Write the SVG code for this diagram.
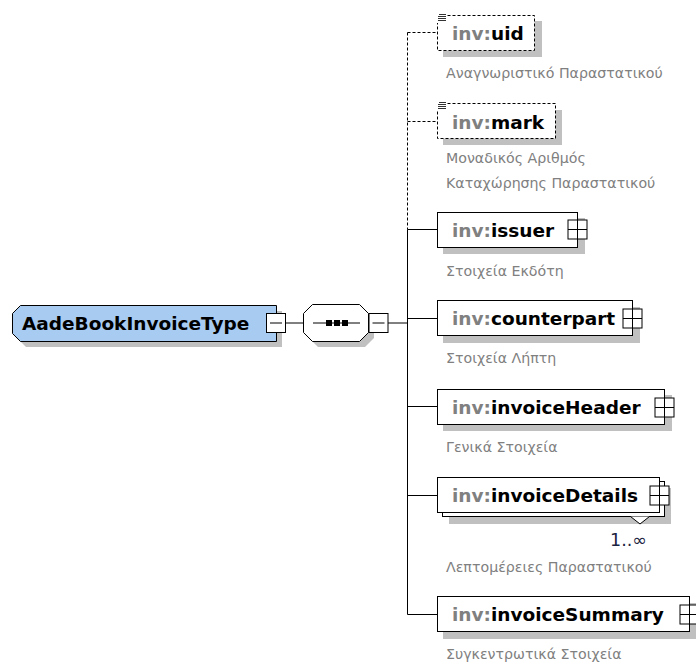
<svg xmlns="http://www.w3.org/2000/svg" width="696" height="664" viewBox="0 0 696 664">
<defs>
<style>
.box{fill:#fff;stroke:#000;stroke-width:1}
.dbox{fill:#fff;stroke:#000;stroke-width:1;stroke-dasharray:3,2}
.sh{fill:#c0c0c0;stroke:none}
.ln{stroke:#000;stroke-width:1;fill:none}
.dl{stroke:#000;stroke-width:1;fill:none;stroke-dasharray:3,2}
.nm{font-family:"DejaVu Sans",sans-serif;font-weight:bold;font-size:18.5px;fill:#000}
.ns{fill:#808080}
.lb{font-family:"DejaVu Sans",sans-serif;font-size:14.2px;fill:#808080}
</style>
<g id="plus">
<rect x="-9.5" y="-9.5" width="19" height="19" fill="#fff" stroke="#000"/>
<path d="M-9.5 0H9.5M0 -9.5V9.5" stroke="#000"/>
</g>
<g id="minus">
<rect x="-9.5" y="-9.5" width="19" height="19" fill="#fff" stroke="#000"/>
<path d="M-6 0H6" stroke="#000"/>
</g>
<g id="doc">
<rect x="0" y="0" width="10" height="10" fill="#fff"/>
<path d="M2 1.5H9M1 3.5H9M1 5.5H9M1 7.5H9" stroke="#333" stroke-width="1"/>
</g>
</defs>
<rect width="696" height="664" fill="#fff"/>

<g id="connectors">
<line class="ln" x1="285" y1="323" x2="303" y2="323"/>
<line class="ln" x1="388" y1="323" x2="407.5" y2="323"/>
<line class="dl" x1="407.5" y1="32.5" x2="407.5" y2="229.5"/>
<line class="ln" x1="407.5" y1="229.5" x2="407.5" y2="614.5"/>
<line class="dl" x1="407.5" y1="32.5" x2="437" y2="32.5"/>
<line class="dl" x1="407.5" y1="121.5" x2="437" y2="121.5"/>
<line class="ln" x1="407.5" y1="229.5" x2="437" y2="229.5"/>
<line class="ln" x1="407.5" y1="318.5" x2="437" y2="318.5"/>
<line class="ln" x1="407.5" y1="406.5" x2="437" y2="406.5"/>
<line class="ln" x1="407.5" y1="495.5" x2="437" y2="495.5"/>
<line class="ln" x1="407.5" y1="614.5" x2="437" y2="614.5"/>
</g>

<g id="AadeBookInvoiceType">
<polygon class="sh" points="26,311 282,311 282,347 26,347 18,339 18,319"/>
<polygon points="20.5,305.5 276.5,305.5 276.5,341.5 20.5,341.5 12.5,333.5 12.5,313.5" fill="#a8cbf2" stroke="#000"/>
<text class="nm" x="22" y="329.5">AadeBookInvoiceType</text>
<use href="#minus" x="276" y="323"/>
</g>

<g id="sequence">
<polygon class="sh" points="318,310 365,310 374,319 374,338 365,347 318,347 309,338 309,319"/>
<polygon points="312.5,304.5 359.5,304.5 368.5,313.5 368.5,332.5 359.5,341.5 312.5,341.5 303.5,332.5 303.5,313.5" fill="#fff" stroke="#000"/>
<line class="ln" x1="313" y1="323" x2="360" y2="323"/>
<rect x="326" y="320" width="6" height="6" fill="#000"/>
<rect x="334" y="320" width="6" height="6" fill="#000"/>
<rect x="342" y="320" width="6" height="6" fill="#000"/>
<use href="#minus" x="378.5" y="323"/>
</g>

<g id="uid">
<rect class="sh" x="443" y="21" width="99" height="36"/>
<rect class="dbox" x="437.5" y="15.5" width="97" height="35"/>
<use href="#doc" x="437" y="13"/>
<text class="nm" x="452" y="40"><tspan class="ns">inv:</tspan>uid</text>
<text class="lb" x="446" y="78">Αναγνωριστικό Παραστατικού</text>
</g>

<g id="mark">
<rect class="sh" x="443" y="110" width="119" height="35"/>
<rect class="dbox" x="437.5" y="103.5" width="118" height="35"/>
<use href="#doc" x="437" y="101"/>
<text class="nm" x="452" y="128.5"><tspan class="ns">inv:</tspan>mark</text>
<text class="lb" x="446" y="163">Μοναδικός Αριθμός</text>
<text class="lb" x="446" y="188">Καταχώρησης Παραστατικού</text>
</g>

<g id="issuer">
<rect class="sh" x="443" y="218" width="142" height="36"/>
<rect class="box" x="437.5" y="212.5" width="140" height="35"/>
<text class="nm" x="452" y="236.5"><tspan class="ns">inv:</tspan>issuer</text>
<use href="#plus" x="577.5" y="229.5"/>
<text class="lb" x="446" y="276">Στοιχεία Εκδότη</text>
</g>

<g id="counterpart">
<rect class="sh" x="443" y="307" width="197" height="36"/>
<rect class="box" x="437.5" y="300.5" width="195" height="35"/>
<text class="nm" x="452" y="325"><tspan class="ns">inv:</tspan>counterpart</text>
<use href="#plus" x="632.5" y="318.5"/>
<text class="lb" x="446" y="363">Στοιχεία Λήπτη</text>
</g>

<g id="invoiceHeader">
<rect class="sh" x="443" y="395" width="229" height="36"/>
<rect class="box" x="437.5" y="389.5" width="227" height="35"/>
<text class="nm" x="452" y="413.5"><tspan class="ns">inv:</tspan>invoiceHeader</text>
<use href="#plus" x="664.5" y="407.5"/>
<text class="lb" x="446" y="452">Γενικά Στοιχεία</text>
</g>

<g id="invoiceDetails">
<rect class="sh" x="449" y="488" width="222" height="36"/>
<rect class="box" x="442.5" y="481.5" width="222" height="35"/>
<rect class="box" x="437.5" y="477.5" width="222" height="35"/>
<polyline points="630.5,516.5 640,524 649.5,516.5" fill="#fff" stroke="#000"/>
<text class="nm" x="452" y="501.5"><tspan class="ns">inv:</tspan>invoiceDetails</text>
<use href="#plus" x="659.5" y="495.5"/>
<text x="610" y="546" font-family="DejaVu Sans, sans-serif" font-size="17.5" fill="#1a2340">1..∞</text>
<text class="lb" x="446" y="572">Λεπτομέρειες Παραστατικού</text>
</g>

<g id="invoiceSummary">
<rect class="sh" x="443" y="603" width="254" height="36"/>
<rect class="box" x="437.5" y="596.5" width="252" height="35"/>
<text class="nm" x="452" y="621"><tspan class="ns">inv:</tspan>invoiceSummary</text>
<use href="#plus" x="689.5" y="614.5"/>
<text class="lb" x="446" y="659">Συγκεντρωτικά Στοιχεία</text>
</g>
</svg>
